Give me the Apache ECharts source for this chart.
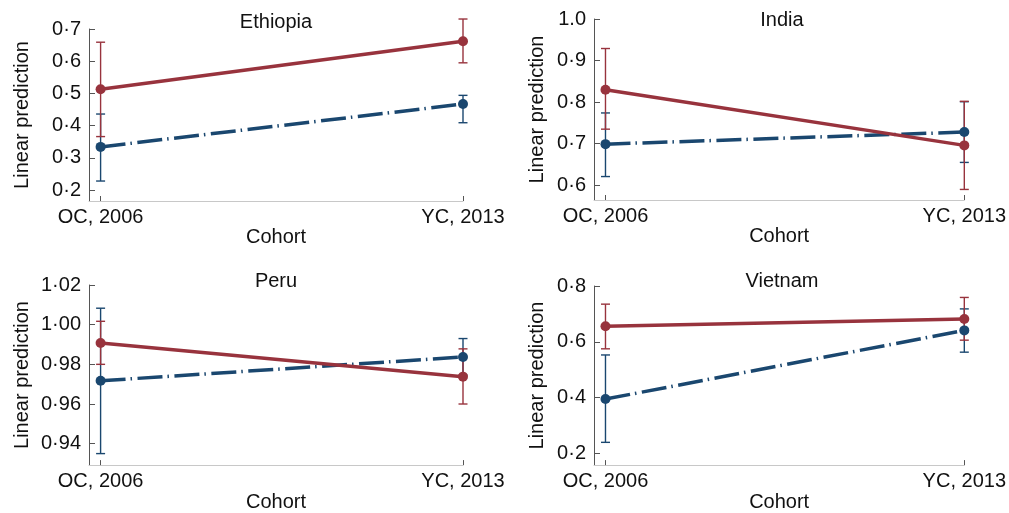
<!DOCTYPE html>
<html>
<head>
<meta charset="utf-8">
<script src="https://cdn.jsdelivr.net/npm/echarts@6/dist/echarts.min.js"></script>
<style>
  html, body { margin: 0; padding: 0; background: #ffffff; }
  #chart { width: 1009px; height: 513px; }
</style>
</head>
<body>
<div id="chart"></div>
<script>
// Cohort categories on the x axis and the four country panels
const cohorts = ['OC, 2006', 'YC, 2013'];
const countries = ['Ethiopia', 'India', 'Peru', 'Vietnam'];

// Linear predictions, one [OC 2006, YC 2013] pair per country
const redMean  = [[0.513, 0.662], [0.830, 0.696], [0.9908, 0.9738], [0.656, 0.682]];
const redLow   = [[0.366, 0.595], [0.735, 0.590], [0.9800, 0.9600], [0.575, 0.606]];
const redHigh  = [[0.659, 0.731], [0.929, 0.802], [1.0017, 0.9878], [0.735, 0.759]];
const blueMean = [[0.334, 0.467], [0.699, 0.728], [0.9717, 0.9837], [0.395, 0.641]];
const blueLow  = [[0.228, 0.409], [0.621, 0.655], [0.9350, 0.9745], [0.240, 0.563]];
const blueHigh = [[0.436, 0.494], [0.774, 0.801], [1.0083, 0.9930], [0.553, 0.718]];

// Y tick values and their printed labels per panel
const yTicks = [
  [0.2, 0.3, 0.4, 0.5, 0.6, 0.7],
  [0.6, 0.7, 0.8, 0.9, 1.0],
  [0.94, 0.96, 0.98, 1.00, 1.02],
  [0.2, 0.4, 0.6, 0.8]
];
const yTickLabels = [
  ['0·2', '0·3', '0·4', '0·5', '0·6', '0·7'],
  ['0·6', '0·7', '0·8', '0·9', '1.0'],
  ['0·94', '0·96', '0·98', '1·00', '1·02'],
  ['0·2', '0·4', '0·6', '0·8']
];
const yMin = [0.166, 0.5646, 0.9292, 0.1585];
const yMax = [0.7, 1.0, 1.02, 0.8];

const RED = '#98333d';
const BLUE = '#1a476f';
const FONT = '"Liberation Sans", Arial, Helvetica, sans-serif';
const TEXT = '#111111';

// Panel boxes (plot areas)
const boxes = [
  { left: 89,  top: 29,  width: 374, height: 172 },
  { left: 594, top: 19,  width: 376, height: 181 },
  { left: 89,  top: 285, width: 374, height: 182 },
  { left: 594, top: 286, width: 376, height: 181 }
];
const yNameGap = [57, 47, 57, 47];
const titleY = [22, 20, 281, 281];

function errorBars(lo, hi) {
  return lo.map((v, k) => [k, v, hi[k]]);
}

function renderBar(color) {
  return function (params, api) {
    const x = api.value(0);
    const a = api.coord([x, api.value(1)]);
    const b = api.coord([x, api.value(2)]);
    const w = 4.5;
    const style = { stroke: color, lineWidth: 1.4 };
    return {
      type: 'group',
      children: [
        { type: 'line', shape: { x1: a[0], y1: a[1], x2: b[0], y2: b[1] }, style },
        { type: 'line', shape: { x1: a[0] - w, y1: a[1], x2: a[0] + w, y2: a[1] }, style },
        { type: 'line', shape: { x1: b[0] - w, y1: b[1], x2: b[0] + w, y2: b[1] }, style }
      ]
    };
  };
}

const grid = [], xAxis = [], yAxis = [], series = [], graphic = [];

countries.forEach((name, i) => {
  const bx = boxes[i];
  grid.push({ left: bx.left, top: bx.top, width: bx.width, height: bx.height, containLabel: false });

  xAxis.push({
    type: 'value', gridIndex: i, min: -0.032, max: 1,
    name: 'Cohort', nameLocation: 'middle', nameGap: 26,
    nameTextStyle: { fontFamily: FONT, fontSize: 20, color: TEXT },
    axisLine: { show: true, onZero: false, lineStyle: { color: '#c8c8c8', width: 1 } },
    axisTick: { show: true, inside: true, length: 5, customValues: [0, 1], lineStyle: { color: '#555555', width: 1 } },
    axisLabel: {
      show: true, margin: 6, customValues: [0, 1], showMinLabel: true, showMaxLabel: true,
      fontFamily: FONT, fontSize: 20, color: TEXT,
      formatter: v => cohorts[Math.round(v)]
    },
    splitLine: { show: false }
  });

  yAxis.push({
    type: 'value', gridIndex: i, min: yMin[i], max: yMax[i],
    name: 'Linear prediction', nameLocation: 'middle', nameGap: yNameGap[i], nameRotate: 90,
    nameTextStyle: { fontFamily: FONT, fontSize: 20, color: TEXT },
    axisLine: { show: true, onZero: false, lineStyle: { color: '#555555', width: 1 } },
    axisTick: { show: true, inside: true, length: 6, customValues: yTicks[i], lineStyle: { color: '#555555', width: 1 } },
    axisLabel: {
      show: true, margin: 8, customValues: yTicks[i], showMinLabel: true, showMaxLabel: true,
      fontFamily: FONT, fontSize: 20, color: TEXT,
      formatter: v => {
        const k = yTicks[i].findIndex(t => Math.abs(t - v) < 1e-9);
        return k >= 0 ? yTickLabels[i][k] : '';
      }
    },
    splitLine: { show: false }
  });

  // confidence intervals
  series.push({
    type: 'custom', xAxisIndex: i, yAxisIndex: i, z: 2, silent: true,
    renderItem: renderBar(BLUE), encode: { x: 0, y: [1, 2] },
    data: errorBars(blueLow[i], blueHigh[i])
  });
  series.push({
    type: 'custom', xAxisIndex: i, yAxisIndex: i, z: 2, silent: true,
    renderItem: renderBar(RED), encode: { x: 0, y: [1, 2] },
    data: errorBars(redLow[i], redHigh[i])
  });

  // predicted values
  series.push({
    type: 'line', xAxisIndex: i, yAxisIndex: i, z: 3, silent: true,
    data: blueMean[i].map((v, k) => [k, v]),
    symbol: 'circle', symbolSize: 10, showSymbol: true,
    itemStyle: { color: BLUE },
    lineStyle: { color: BLUE, width: 3.5, type: [25, 5, 1.5, 5.5], cap: 'butt' }
  });
  series.push({
    type: 'line', xAxisIndex: i, yAxisIndex: i, z: 4, silent: true,
    data: redMean[i].map((v, k) => [k, v]),
    symbol: 'circle', symbolSize: 10, showSymbol: true,
    itemStyle: { color: RED },
    lineStyle: { color: RED, width: 3.5 }
  });

  // panel heading
  graphic.push({
    type: 'text', x: bx.left + bx.width / 2, y: titleY[i],
    style: { text: name, font: '20px ' + FONT, fill: TEXT, textAlign: 'center', textVerticalAlign: 'middle' }
  });
});

const chart = echarts.init(document.getElementById('chart'), null, { renderer: 'canvas' });
chart.setOption({
  animation: false,
  backgroundColor: '#ffffff',
  grid, xAxis, yAxis, series, graphic
});
</script>
</body>
</html>
